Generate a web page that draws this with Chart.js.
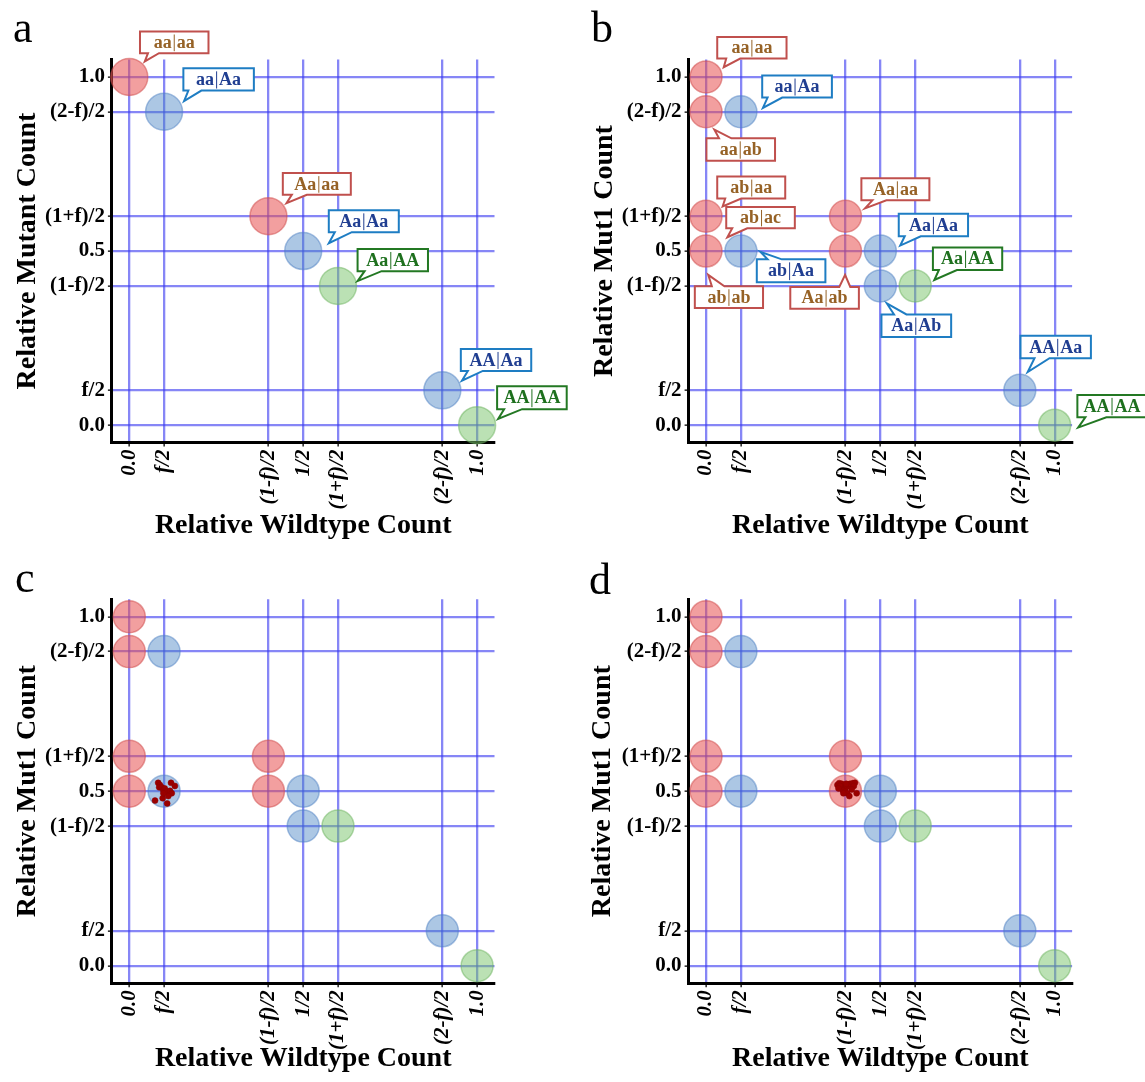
<!DOCTYPE html>
<html>
<head>
<meta charset="utf-8">
<script src="https://cdn.jsdelivr.net/npm/chart.js@4.4.1/dist/chart.umd.min.js"></script>
<style>
html,body{margin:0;padding:0;background:#fff;}
body{width:1145px;height:1082px;position:relative;overflow:hidden;}
canvas{position:absolute;}
.letter{position:absolute;font-family:"Liberation Serif","Times New Roman",serif;font-size:44px;line-height:44px;color:#000;}
</style>
</head>
<body>
<canvas id="pa" width="580" height="545" style="left:0;top:0"></canvas>
<canvas id="pb" width="565" height="545" style="left:580px;top:0"></canvas>
<canvas id="pc" width="580" height="537" style="left:0;top:545px"></canvas>
<canvas id="pd" width="565" height="537" style="left:580px;top:545px"></canvas>
<div class="letter" style="left:13px;top:6px">a</div>
<div class="letter" style="left:591px;top:6px">b</div>
<div class="letter" style="left:15px;top:556px">c</div>
<div class="letter" style="left:589px;top:558px">d</div>
<script>
// ---------------- data ----------------
const xTickValues = [0, 0.1, 0.4, 0.5, 0.6, 0.9, 1];
const xTickLabels = ['0.0', 'f/2', '(1-f)/2', '1/2', '(1+f)/2', '(2-f)/2', '1.0'];
const yTickValues = [0, 0.1, 0.4, 0.5, 0.6, 0.9, 1];
const yTickLabels = ['0.0', 'f/2', '(1-f)/2', '0.5', '(1+f)/2', '(2-f)/2', '1.0'];

const xTitle = 'Relative Wildtype Count';
const yTitles = ['Relative Mutant Count', 'Relative Mut1 Count', 'Relative Mut1 Count', 'Relative Mut1 Count'];

// panel a genotype positions
const aRedX = [0, 0.4];
const aRedY = [1, 0.6];
const aBlueX = [0.1, 0.5, 0.9];
const aBlueY = [0.9, 0.5, 0.1];
const aGreenX = [0.6, 1];
const aGreenY = [0.4, 0];
const aLabelText = ['aa|aa', 'aa|Aa', 'Aa|aa', 'Aa|Aa', 'Aa|AA', 'AA|Aa', 'AA|AA'];
const aLabelX = [0, 0.1, 0.4, 0.5, 0.6, 0.9, 1];
const aLabelY = [1, 0.9, 0.6, 0.5, 0.4, 0.1, 0];
const aLabelGroup = ['red', 'blue', 'red', 'blue', 'green', 'blue', 'green'];

// panels b, c, d genotype positions
const mRedX = [0, 0, 0, 0, 0.4, 0.4];
const mRedY = [1, 0.9, 0.6, 0.5, 0.6, 0.5];
const mBlueX = [0.1, 0.1, 0.5, 0.5, 0.9];
const mBlueY = [0.9, 0.5, 0.5, 0.4, 0.1];
const mGreenX = [0.6, 1];
const mGreenY = [0.4, 0];
const bLabelText = ['aa|aa', 'aa|Aa', 'aa|ab', 'ab|aa', 'ab|ac', 'ab|Aa', 'ab|ab', 'Aa|aa', 'Aa|ab', 'Aa|Aa', 'Aa|AA', 'Aa|Ab', 'AA|Aa', 'AA|AA'];
const bLabelX = [0, 0.1, 0, 0, 0, 0.1, 0, 0.4, 0.4, 0.5, 0.6, 0.5, 0.9, 1];
const bLabelY = [1, 0.9, 0.9, 0.6, 0.5, 0.5, 0.5, 0.6, 0.5, 0.5, 0.4, 0.4, 0.1, 0];
const bLabelGroup = ['red', 'blue', 'red', 'red', 'red', 'blue', 'red', 'red', 'red', 'blue', 'green', 'blue', 'blue', 'green'];

// observed samples
const cDotX = [0.083, 0.088, 0.086, 0.093, 0.098, 0.102, 0.107, 0.117, 0.122, 0.120, 0.131, 0.074, 0.096, 0.109, 0.112, 0.098];
const cDotY = [0.524, 0.518, 0.511, 0.511, 0.503, 0.508, 0.499, 0.501, 0.494, 0.524, 0.515, 0.473, 0.480, 0.465, 0.486, 0.494];
const dDotX = [0.377, 0.382, 0.389, 0.394, 0.386, 0.399, 0.403, 0.408, 0.413, 0.421, 0.427, 0.424, 0.392, 0.399, 0.405, 0.411, 0.432, 0.418, 0.384, 0.402, 0.380, 0.394];
const dDotY = [0.518, 0.523, 0.521, 0.515, 0.511, 0.508, 0.513, 0.518, 0.521, 0.523, 0.524, 0.515, 0.503, 0.499, 0.494, 0.486, 0.494, 0.505, 0.515, 0.521, 0.508, 0.494];

// ---------------- styles / layout ----------------
const FONT = '"Liberation Serif", "Times New Roman", serif';
const GROUP = {
  red:   { fill: 'rgba(232,80,80,0.55)',  edge: 'rgba(210,80,80,0.55)',  box: 'rgb(192,80,77)',  text: 'rgb(150,98,38)' },
  blue:  { fill: 'rgba(70,130,195,0.45)', edge: 'rgba(80,130,195,0.5)',  box: 'rgb(30,125,195)', text: 'rgb(32,62,145)' },
  green: { fill: 'rgba(120,195,105,0.5)', edge: 'rgba(110,180,95,0.5)',  box: 'rgb(35,120,35)',  text: 'rgb(30,112,30)' }
};
// callout geometry relative to anchor pixel: [dx, dy, w, h, tipDx, tipDy, side, base1, base2]
const aCalloutLayout = [
  [10.7, -45.4, 68.5, 21.7, 15.5, -15.5, 'b', 8, 19],
  [19.3, -43.4, 70.5, 22.2, 20, -10.7, 'b', 5, 18],
  [14.4, -43.1, 68, 21.6, 18.1, -13.1, 'b', 9, 24],
  [25.6, -40.7, 70, 21.8, 25.6, -7.9, 'b', 6, 23],
  [19.6, -36.9, 70.4, 22.2, 19.6, -4.8, 'b', 7, 24],
  [18.5, -41.4, 70.4, 22, 19.6, -9.7, 'b', 7, 22],
  [20, -39, 69.6, 23, 21, -6.2, 'b', 7, 25]
];
const bCalloutLayout = [
  [11.2, -40, 69.3, 21.7, 17.7, -9.7, 'b', 9, 23],
  [21.3, -36.2, 69.7, 22, 22, -3.8, 'b', 5.4, 20],
  [0.4, 26.6, 68.6, 22.4, 8.3, 17.9, 't', 12.6, 25],
  [11.2, -39.7, 68, 22, 16.6, -9.7, 'b', 8, 24],
  [20.2, -44.1, 68.6, 21.4, 21.3, -13.8, 'b', 6, 21],
  [15.9, 8.3, 68.6, 22.8, 19.5, 0.7, 't', 10.8, 25],
  [-11.2, 35.2, 68.2, 21.7, 2.2, 23.8, 't', 17, 29.6],
  [15.9, -37.9, 68, 22, 19.5, -7.9, 'b', 11, 25],
  [-55.2, 35.9, 68.6, 21.7, -0.4, 23.8, 't', 49, 60],
  [18.4, -37.2, 69.3, 22.4, 19.9, -5.5, 'b', 6, 22],
  [17.7, -38.3, 69.3, 22.4, 19.1, -5.9, 'b', 6, 24],
  [1.1, 28.6, 69.7, 22.4, 6.5, 17.6, 't', 12.6, 25],
  [0.7, -54.5, 70.4, 22.4, 7.9, -18.3, 'b', 14, 29],
  [22.7, -30.3, 69.3, 22.4, 23.5, 2.4, 'b', 8, 29]
];

function zip(xs, ys) { return xs.map((x, i) => ({ x: x, y: ys[i] })); }

function genotypeSets(rx, ry, bx, by, gx, gy, r) {
  const mk = (g, xs, ys) => ({
    data: zip(xs, ys), pointRadius: r, pointHoverRadius: r,
    backgroundColor: GROUP[g].fill, borderColor: GROUP[g].edge, borderWidth: 1.5, clip: false
  });
  return [mk('red', rx, ry), mk('blue', bx, by), mk('green', gx, gy)];
}
function dotSet(xs, ys) {
  return { data: zip(xs, ys), pointRadius: 3, pointHoverRadius: 3, backgroundColor: '#9a0000', borderColor: '#8b0000', borderWidth: 0.5, clip: false };
}
function callouts(texts, xs, ys, groups, layout) {
  return texts.map((t, i) => ({ text: t, x: xs[i], y: ys[i], group: groups[i], layout: layout[i] }));
}

const calloutPlugin = {
  id: 'callouts',
  afterDatasetsDraw(chart, args, opts) {
    if (!opts || !opts.items) return;
    const ctx = chart.ctx, xs = chart.scales.x, ys = chart.scales.y;
    ctx.save();
    opts.items.forEach(it => {
      const px = xs.getPixelForValue(it.x), py = ys.getPixelForValue(it.y);
      const [dx, dy, w, h, tx, ty, side, b1, b2] = it.layout;
      const bx = px + dx, by = py + dy, tipX = px + tx, tipY = py + ty;
      const st = GROUP[it.group];
      ctx.beginPath();
      if (side === 'b') {
        ctx.moveTo(bx, by); ctx.lineTo(bx + w, by); ctx.lineTo(bx + w, by + h);
        ctx.lineTo(bx + b2, by + h); ctx.lineTo(tipX, tipY); ctx.lineTo(bx + b1, by + h);
        ctx.lineTo(bx, by + h); ctx.closePath();
      } else {
        ctx.moveTo(bx, by + h); ctx.lineTo(bx, by); ctx.lineTo(bx + b1, by);
        ctx.lineTo(tipX, tipY); ctx.lineTo(bx + b2, by); ctx.lineTo(bx + w, by);
        ctx.lineTo(bx + w, by + h); ctx.closePath();
      }
      ctx.fillStyle = '#fff'; ctx.fill();
      ctx.lineWidth = 2; ctx.lineJoin = 'miter'; ctx.strokeStyle = st.box; ctx.stroke();
      const parts = it.text.split('|');
      ctx.font = 'bold 18px ' + FONT;
      const wl = ctx.measureText(parts[0]).width, wr = ctx.measureText(parts[1]).width, gap = 2.5;
      const sx = bx + w / 2 - (wl + wr + 2 * gap) / 2;
      ctx.fillStyle = st.text; ctx.textAlign = 'left'; ctx.textBaseline = 'middle';
      ctx.fillText(parts[0], sx, by + h / 2 + 1);
      const barX = sx + wl + gap;
      ctx.beginPath(); ctx.moveTo(barX, by + 3); ctx.lineTo(barX, by + h - 2);
      ctx.lineWidth = 1; ctx.strokeStyle = st.text; ctx.stroke();
      ctx.fillText(parts[1], barX + gap, by + h / 2 + 1);
    });
    ctx.restore();
  }
};

const GRID = { color: 'rgba(60,60,240,0.62)', lineWidth: 2.3, tickColor: '#222', tickLength: 4, tickWidth: 1.5, drawOnChartArea: true };
const BORDER = { display: true, color: '#000', width: 3 };

function buildChart(id, cfg) {
  new Chart(document.getElementById(id), {
    type: 'scatter',
    data: { datasets: cfg.datasets },
    plugins: [calloutPlugin],
    options: {
      responsive: false, animation: false, events: [],
      layout: { padding: { left: 0, top: cfg.top, right: cfg.right, bottom: 0 } },
      plugins: { legend: { display: false }, tooltip: { enabled: false }, callouts: { items: cfg.callouts } },
      scales: {
        x: {
          type: 'linear', position: 'bottom', min: -0.05, max: 1.05,
          afterBuildTicks: s => { s.ticks = xTickValues.map(v => ({ value: v })); },
          afterFit: s => { s.height = cfg.xh; },
          ticks: {
            autoSkip: false, minRotation: 90, maxRotation: 90, padding: 3, color: '#000',
            font: { family: FONT, size: 21, weight: 'bold', style: 'italic' },
            callback: v => xTickLabels[xTickValues.indexOf(v)]
          },
          grid: GRID, border: BORDER,
          title: { display: true, text: xTitle, color: '#000', font: { family: FONT, size: 28, weight: 'bold' }, padding: { top: 0, bottom: cfg.xtp } }
        },
        y: {
          type: 'linear', position: 'left', min: -0.05, max: 1.05,
          afterBuildTicks: s => { s.ticks = yTickValues.map(v => ({ value: v })); },
          afterFit: s => { s.width = cfg.yw; },
          ticks: {
            autoSkip: false, padding: 3, color: '#000',
            font: { family: FONT, size: 21, weight: 'bold' },
            callback: v => yTickLabels[yTickValues.indexOf(v)]
          },
          grid: GRID, border: BORDER,
          title: { display: true, text: cfg.ytitle, color: '#000', font: { family: FONT, size: 28, weight: 'bold' }, padding: { top: cfg.ytp, bottom: 0 } }
        }
      }
    }
  });
}

buildChart('pa', {
  datasets: genotypeSets(aRedX, aRedY, aBlueX, aBlueY, aGreenX, aGreenY, 18.5),
  callouts: callouts(aLabelText, aLabelX, aLabelY, aLabelGroup, aCalloutLayout),
  top: 59.5, right: 85.5, xh: 102.4, yw: 111.9, ytitle: yTitles[0], ytp: 10.8, xtp: 2.7
});
buildChart('pb', {
  datasets: genotypeSets(mRedX, mRedY, mBlueX, mBlueY, mGreenX, mGreenY, 16),
  callouts: callouts(bLabelText, bLabelX, bLabelY, bLabelGroup, bCalloutLayout),
  top: 59.5, right: 72.9, xh: 102.4, yw: 108.6, ytitle: yTitles[1], ytp: 8, xtp: 2.7
});
buildChart('pc', {
  datasets: [dotSet(cDotX, cDotY)].concat(genotypeSets(mRedX, mRedY, mBlueX, mBlueY, mGreenX, mGreenY, 16)),
  callouts: [],
  top: 54.25, right: 85.5, xh: 98.85, yw: 111.9, ytitle: yTitles[2], ytp: 10.8, xtp: 6.4
});
buildChart('pd', {
  datasets: [dotSet(dDotX, dDotY)].concat(genotypeSets(mRedX, mRedY, mBlueX, mBlueY, mGreenX, mGreenY, 16)),
  callouts: [],
  top: 54.25, right: 72.9, xh: 98.85, yw: 108.6, ytitle: yTitles[3], ytp: 6.3, xtp: 6.4
});
</script>
</body>
</html>
